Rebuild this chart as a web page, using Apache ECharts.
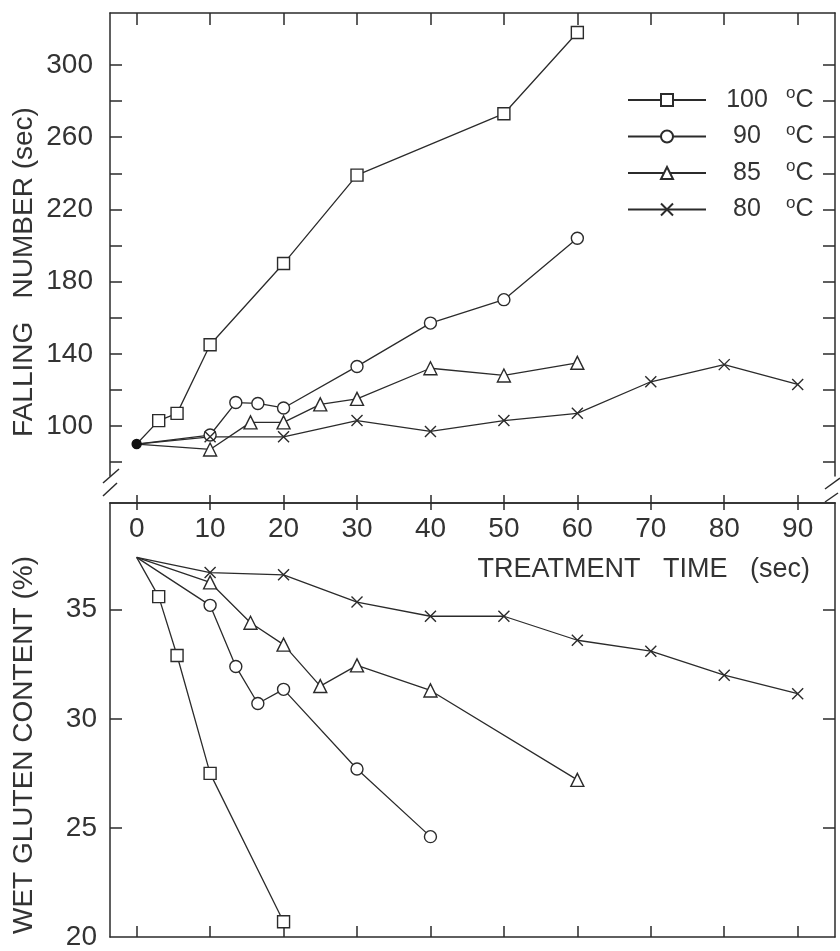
<!DOCTYPE html>
<html>
<head>
<meta charset="utf-8">
<script src="https://cdn.jsdelivr.net/npm/echarts@6/dist/echarts.min.js"></script>
<style>
html, body { margin: 0; background: #fff; }
#chart { width: 840px; height: 951px; }
</style>
</head>
<body>
<div id="chart"></div>
<script>
// series names (temperature, °C) and their markers
const temps = ['100', '90', '85', '80']
const symbols = ['rect', 'circle', 'triangle', 'path://M0,0L10,10M10,0L0,10']
const symbolSizes = [12, 12, 13, 11]

// falling number (sec) vs treatment time (sec)
const fn100 = [[0, 90], [3, 103], [5.5, 107], [10, 145], [20, 190], [30, 239], [50, 273], [60, 318]]
const fn90 = [[0, 90], [10, 95], [13.5, 113], [16.5, 112.5], [20, 110], [30, 133], [40, 157], [50, 170], [60, 204]]
const fn85 = [[0, 90], [10, 87], [15.5, 102], [20, 102], [25, 112], [30, 115], [40, 132], [50, 128], [60, 135]]
const fn80 = [[0, 90], [10, 94], [20, 94], [30, 103], [40, 97], [50, 103], [60, 107], [70, 124.5], [80, 134], [90, 123]]

// wet gluten content (%) vs treatment time (sec)
const wg100 = [[0, 37.4], [3, 35.6], [5.5, 32.9], [10, 27.5], [20, 20.7]]
const wg90 = [[0, 37.4], [10, 35.2], [13.5, 32.4], [16.5, 30.7], [20, 31.35], [30, 27.7], [40, 24.6]]
const wg85 = [[0, 37.4], [10, 36.25], [15.5, 34.4], [20, 33.4], [25, 31.5], [30, 32.45], [40, 31.3], [60, 27.2]]
const wg80 = [[0, 37.4], [10, 36.7], [20, 36.6], [30, 35.35], [40, 34.7], [50, 34.7], [60, 33.6], [70, 33.1], [80, 32.0], [90, 31.15]]

// ticks
const timeTicks = [0, 10, 20, 30, 40, 50, 60, 70, 80, 90]
const fnTicks = [80, 100, 120, 140, 160, 180, 200, 220, 240, 260, 280, 300]
const fnLabels = [100, 140, 180, 220, 260, 300]
const wgTicks = [25, 30, 35]
const wgLabels = [20, 25, 30, 35]

const ink = '#2b2b2b'
const font = 'Liberation Sans'

const chart = echarts.init(document.getElementById('chart'))

function xAxisBase(grid, position) {
  return {
    type: 'value', gridIndex: grid, position: position,
    min: -3.63, max: 95.08,
    splitLine: { show: false },
    axisLine: { show: true, onZero: false, lineStyle: { color: ink, width: 1.5 } },
    axisTick: { show: true, inside: true, length: 12, customValues: timeTicks, lineStyle: { color: ink, width: 1.5 } },
    axisLabel: { show: false }
  }
}

function yAxisBase(grid, position, min, max, ticks) {
  return {
    type: 'value', gridIndex: grid, position: position,
    min: min, max: max,
    splitLine: { show: false },
    axisLine: { show: true, onZero: false, lineStyle: { color: ink, width: 1.5 } },
    axisTick: { show: true, inside: true, length: 12, customValues: ticks, lineStyle: { color: ink, width: 1.5 } },
    axisLabel: { show: false }
  }
}

const xAxes = [
  xAxisBase(0, 'top'),
  xAxisBase(1, 'top'),
  xAxisBase(1, 'top'),
  xAxisBase(1, 'bottom')
]
// lower top axis: labels inside, ticks crossing the line
xAxes[1].axisTick = { show: true, inside: false, length: 8, customValues: timeTicks, lineStyle: { color: ink, width: 1.5 } }
xAxes[1].axisLabel = { show: true, inside: true, margin: 12, customValues: timeTicks, color: '#333', fontSize: 28, fontFamily: font }
xAxes[2].axisTick.length = 7
xAxes[3].axisTick.length = 11

const yAxes = [
  yAxisBase(0, 'left', 72.3, 328.8, fnTicks),
  yAxisBase(0, 'right', 72.3, 328.8, fnTicks),
  yAxisBase(1, 'left', 20, 39.89, wgTicks),
  yAxisBase(1, 'right', 20, 39.89, wgTicks)
]
yAxes[0].axisLabel = { show: true, margin: 17, customValues: fnLabels, color: '#333', fontSize: 28, fontFamily: font }
yAxes[2].axisLabel = { show: true, margin: 13, customValues: wgLabels, color: '#333', fontSize: 28, fontFamily: font }

function makeSeries(name, idx, data, grid, dot) {
  return {
    name: name,
    type: 'line',
    xAxisIndex: grid === 0 ? 0 : 1,
    yAxisIndex: grid === 0 ? 0 : 2,
    symbol: symbols[idx],
    symbolSize: symbolSizes[idx],
    lineStyle: { color: ink, width: 1.3 },
    itemStyle: { color: '#fff', borderColor: ink, borderWidth: 1.4 },
    emphasis: { disabled: true },
    z: 3,
    data: data.map((p, i) => {
      if (i > 0) return p
      if (dot) return { value: p, symbol: 'circle', symbolSize: 9, itemStyle: { color: '#111', borderColor: '#111' } }
      return { value: p, symbol: 'none' }
    })
  }
}

const fnData = [fn100, fn90, fn85, fn80]
const wgData = [wg100, wg90, wg85, wg80]
const series = []
temps.forEach((t, i) => series.push(makeSeries(t, i, fnData[i], 0, i === 0)))
temps.forEach((t, i) => series.push(makeSeries(t, i, wgData[i], 1, false)))

function breakLine(x1, y1, x2, y2) {
  return { type: 'line', shape: { x1: x1, y1: y1, x2: x2, y2: y2 }, style: { stroke: ink, lineWidth: 1.5 } }
}

chart.setOption({
  animation: false,
  backgroundColor: '#fff',
  grid: [
    { left: 110, right: 5, top: 13, height: 463 },
    { left: 110, right: 5, top: 503, height: 439 }
  ],
  xAxis: xAxes,
  yAxis: yAxes,
  legend: {
    data: temps,
    orient: 'vertical',
    left: 627,
    top: 85,
    padding: 0,
    itemWidth: 78,
    itemHeight: 15,
    itemGap: 9,
    selectedMode: false,
    formatter: name => '{n|' + name + '}{o|o}{c|C}',
    textStyle: {
      color: '#333',
      fontFamily: font,
      rich: {
        n: { fontSize: 25, fontFamily: font, color: '#333', width: 72, align: 'right', lineHeight: 30 },
        o: { fontSize: 17, fontFamily: font, color: '#333', padding: [0, 0, 0, 3], lineHeight: 17, verticalAlign: 'top' },
        c: { fontSize: 25, fontFamily: font, color: '#333', lineHeight: 30 }
      }
    }
  },
  graphic: [
    breakLine(103, 483, 119, 469),
    breakLine(103, 496, 117, 483),
    breakLine(825, 489, 840, 478),
    breakLine(825, 502, 838, 493),
    {
      type: 'text', x: 24, y: 272, rotation: Math.PI / 2,
      style: { text: 'FALLING   NUMBER (sec)', fontSize: 28, fontFamily: font, fill: '#333', align: 'center', verticalAlign: 'middle' }
    },
    {
      type: 'text', x: 24, y: 745, rotation: Math.PI / 2,
      style: { text: 'WET GLUTEN CONTENT (%)', fontSize: 28, fontFamily: font, fill: '#333', align: 'center', verticalAlign: 'middle' }
    },
    {
      type: 'text', x: 810, y: 570,
      style: { text: 'TREATMENT   TIME   (sec)', fontSize: 27, fontFamily: font, fill: '#333', align: 'right', verticalAlign: 'middle' }
    }
  ],
  series: series
})
</script>
</body>
</html>
